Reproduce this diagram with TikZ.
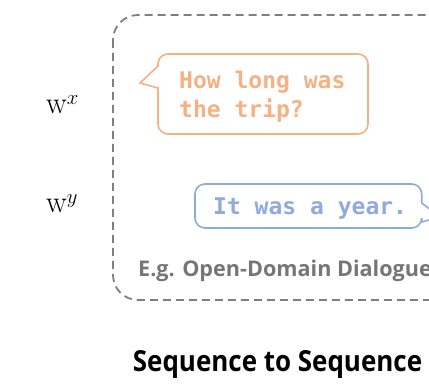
\documentclass[tikz,border=0pt]{standalone}
\usepackage{fontspec}
\newfontfamily\monob{DejaVu Sans Mono}[BoldFont={DejaVu Sans Mono Bold}]
\newfontfamily\sansb{Open Sans}
\newfontfamily\sanst{Open Sans}[FakeStretch=0.895]
\definecolor{dgray}{HTML}{7F7F7F}
\definecolor{egray}{HTML}{767676}
\definecolor{orng}{HTML}{F4B183}
\definecolor{blu}{HTML}{8FAADC}
\begin{document}
\begin{tikzpicture}[x=1pt,y=-1pt,
  bubO/.style={draw=orng,line width=1.6pt},
  bubB/.style={draw=blu,line width=1.6pt},
  txtO/.style={anchor=base west,inner sep=0pt,text=orng,font=\monob\bfseries\fontsize{23}{29}\selectfont},
  txtB/.style={anchor=base west,inner sep=0pt,text=blu,font=\monob\bfseries\fontsize{23}{29}\selectfont},
  wlab/.style={anchor=base west,inner sep=0pt,font=\fontsize{31}{36}\selectfont},
  dashbox/.style={draw=dgray,line width=1.8pt,dash pattern=on 8pt off 5pt,rounded corners=25pt}]
\useasboundingbox (0,0) rectangle (429,387);
\clip (0,0) rectangle (429,387);
\draw[dashbox] (113,15) rectangle (520,300);
% orange bubble
\draw[bubO] (140,83) -- (158,88) [rounded corners=10pt] -- (158,134) -- (368,134) -- (368,54) -- (158,54) [sharp corners] -- (158,66) -- cycle;
\node[txtO] (q1) at (179,88.3) {How long was};
\node[txtO] (q2) at (179,117.7) {the trip?};
% blue bubble
\draw[bubB] (440,217) -- (421.7,203) [rounded corners=10pt] -- (421.7,184) -- (195,184) -- (195,228) -- (421.7,228) [sharp corners] -- (421.7,222) -- cycle;
\node[txtB] (a1) at (213,215) {It was a year.};
\node[anchor=base west,inner sep=0pt,text=egray,font=\sansb\bfseries\fontsize{21.6}{25}\selectfont] (eg) at (138,277) {E.g. Open-Domain Dialogue};
\node[wlab] (wx) at (46,114) {$\mathrm{w}^{x}$};
\node[wlab] (wy) at (46,213) {$\mathrm{w}^{y}$};
\node[anchor=base,inner sep=0pt,font=\sanst\bfseries\fontsize{29}{34}\selectfont] (title) at (277.5,372) {Sequence to Sequence};
\end{tikzpicture}
\end{document}
